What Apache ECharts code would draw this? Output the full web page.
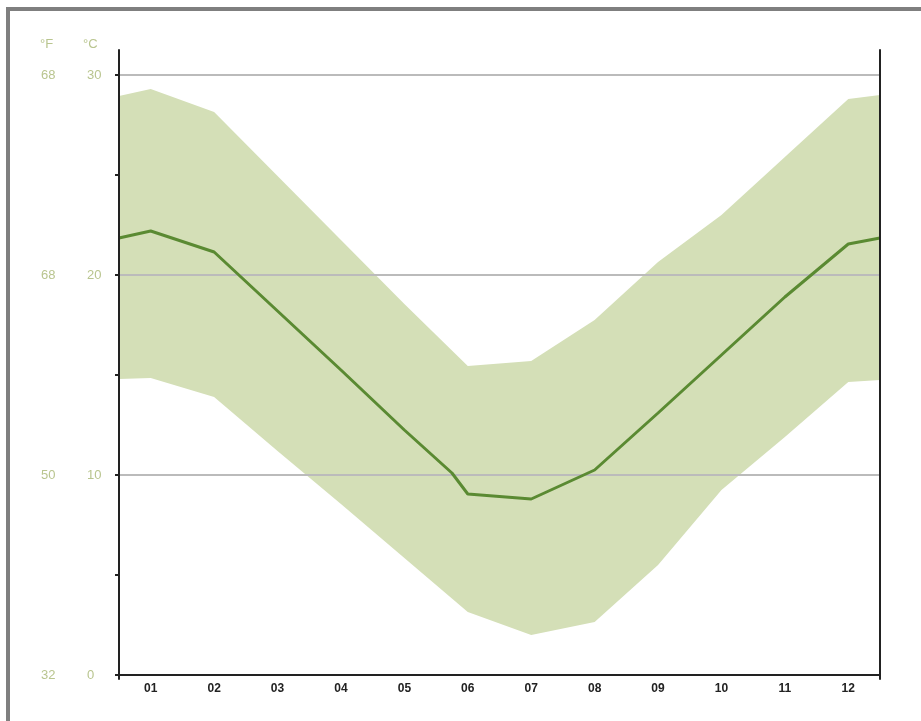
<!DOCTYPE html>
<html>
<head>
<meta charset="utf-8">
<script src="https://cdn.jsdelivr.net/npm/echarts@6/dist/echarts.min.js"></script>
<style>
  html, body { margin: 0; padding: 0; background: #fff; }
  #frame { position: absolute; left: 6px; top: 7px; right: 0; bottom: 0; border-left: 4px solid #7f7f7f; border-top: 4px solid #7f7f7f; }
  #chart { position: absolute; left: 0; top: 0; width: 921px; height: 721px; }
</style>
</head>
<body>
<div id="chart"></div>
<div id="frame"></div>
<script>
const months = ['01','02','03','04','05','06','07','08','09','10','11','12'];
const bandX = [0.5, 1, 2, 3, 4, 5, 6, 7, 8, 9, 10, 11, 12, 12.5];
const maxTemp = [28.95, 29.3, 28.15, 24.95, 21.75, 18.55, 15.45, 15.7, 17.75, 20.65, 23.0, 25.9, 28.8, 29.0];
const minTemp = [14.8, 14.85, 13.9, 11.2, 8.55, 5.85, 3.15, 2.0, 2.65, 5.5, 9.25, 11.9, 14.65, 14.75];
const meanX = [0.5, 1, 2, 3, 4, 5, 5.75, 6, 7, 8, 9, 10, 11, 12, 12.5];
const meanTemp = [21.85, 22.2, 21.15, 18.2, 15.25, 12.25, 10.1, 9.05, 8.8, 10.25, 13.1, 16.0, 18.9, 21.55, 21.85];
const celsiusTicks = [0, 10, 20, 30];
const fahrenheitLabels = ['32', '50', '68', '68'];

const labelColor = '#b9c58f';
const font = 'Liberation Sans, Arial, sans-serif';
const chart = echarts.init(document.getElementById('chart'));
chart.setOption({
  animation: false,
  backgroundColor: '#fff',
  textStyle: { fontFamily: font },
  graphic: [
    { type: 'text', left: 40, top: 38, style: { text: '°F', fill: labelColor, font: '13px ' + font } },
    { type: 'text', left: 83, top: 38, style: { text: '°C', fill: labelColor, font: '13px ' + font } }
  ],
  grid: [
    { left: 119, right: 41, top: 50, bottom: 42 },
    { left: 119, right: 41, top: 75, bottom: 46 }
  ],
  xAxis: [
    { gridIndex: 0, type: 'value', min: 0, max: 1, show: false },
    { gridIndex: 1, type: 'category', data: months, boundaryGap: true,
      axisLine: { show: true, lineStyle: { color: '#222', width: 2 } },
      axisTick: { show: false },
      axisLabel: { color: '#222', fontWeight: 'bold', fontSize: 12, margin: 8 },
      splitLine: { show: false }, z: 5 },
    { gridIndex: 1, type: 'value', min: 0.5, max: 12.5, show: false }
  ],
  yAxis: [
    { gridIndex: 0, type: 'value', min: 0, max: 1, position: 'left',
      axisLine: { show: true, lineStyle: { color: '#222', width: 2 } },
      axisTick: { show: false }, axisLabel: { show: false }, splitLine: { show: false }, z: 6 },
    { gridIndex: 0, type: 'value', min: 0, max: 1, position: 'right',
      axisLine: { show: true, lineStyle: { color: '#222', width: 2 } },
      axisTick: { show: false }, axisLabel: { show: false }, splitLine: { show: false }, z: 6 },
    { gridIndex: 1, type: 'value', min: 0, max: 30, interval: 10, position: 'left',
      axisLine: { show: false },
      axisTick: { show: true, length: 4, lineStyle: { color: '#222', width: 2 } },
      minorTick: { show: true, splitNumber: 2, length: 4, lineStyle: { color: '#222', width: 2 } },
      axisLabel: { color: labelColor, fontSize: 13, align: 'left', margin: 32,
        formatter: v => celsiusTicks.includes(v) ? String(v) : '' },
      splitLine: { show: true, lineStyle: { color: '#bbbbbb', width: 2 } },
      z: 3 },
    { gridIndex: 1, type: 'value', min: 0, max: 30, interval: 10, position: 'left',
      axisLine: { show: false }, axisTick: { show: false }, splitLine: { show: false },
      axisLabel: { color: labelColor, fontSize: 13, align: 'left', margin: 78,
        formatter: v => { const i = celsiusTicks.indexOf(v); return i >= 0 ? fahrenheitLabels[i] : ''; } } }
  ],
  series: [
    { type: 'custom', xAxisIndex: 2, yAxisIndex: 2, z: 1,
      encode: { x: 0, y: [1, 2] },
      data: bandX.map((x, i) => [x, minTemp[i], maxTemp[i]]),
      renderItem: function (params, api) {
        if (params.dataIndex !== 0) return null;
        const pts = [];
        for (let i = 0; i < bandX.length; i++) pts.push(api.coord([bandX[i], maxTemp[i]]));
        for (let i = bandX.length - 1; i >= 0; i--) pts.push(api.coord([bandX[i], minTemp[i]]));
        return { type: 'polygon', shape: { points: pts }, style: { fill: '#d4dfb7' } };
      } },
    { type: 'line', xAxisIndex: 2, yAxisIndex: 2, symbol: 'none',
      lineStyle: { color: '#5a8a32', width: 3 },
      data: meanX.map((x, i) => [x, meanTemp[i]]), z: 4 }
  ]
});
</script>
</body>
</html>
